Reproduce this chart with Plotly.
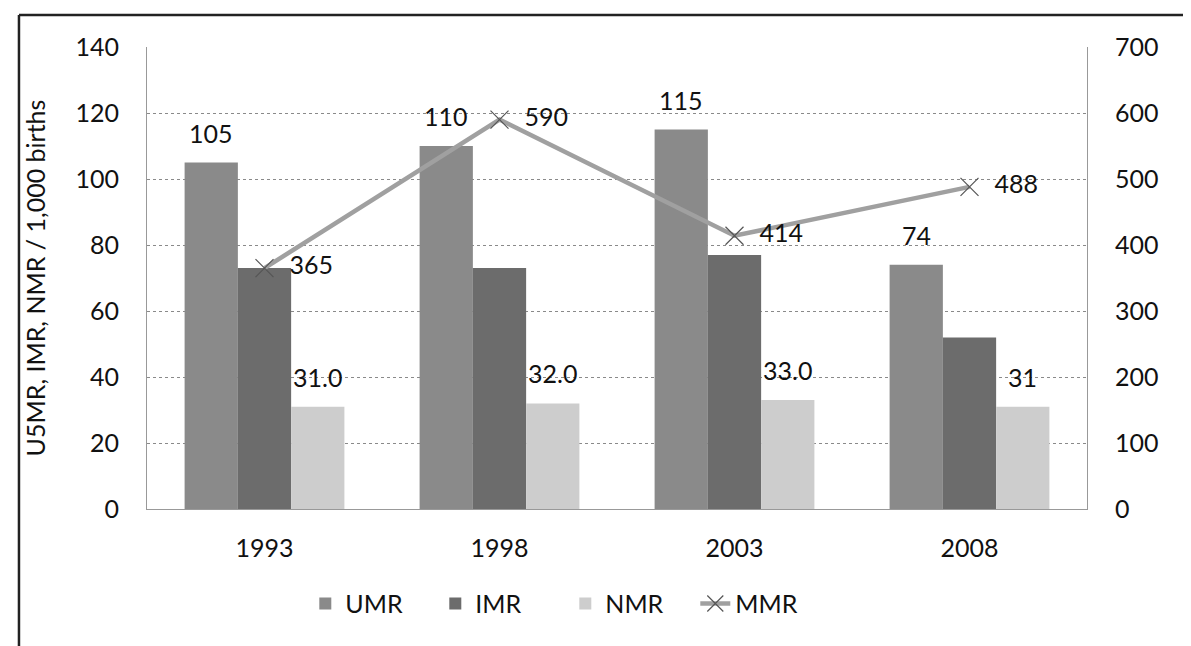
import plotly.graph_objects as go

years = ["1993", "1998", "2003", "2008"]
umr = [105, 110, 115, 74]
imr = [73, 73, 77, 52]
nmr = [31.0, 32.0, 33.0, 31]
mmr = [365, 590, 414, 488]
umr_labels = ["105", "110", "115", "74"]
nmr_labels = ["31.0", "32.0", "33.0", "31"]
mmr_labels = ["365", "590", "414", "488"]

FONT = "Lato"
FS = 25

W, H = 1191, 646
ML, MR, MT, MB = 139, 112, 39, 145
BARGAP = 0.32
plot_w = W - ML - MR
cat_w = plot_w / len(years)
bar_w = cat_w * (1 - BARGAP) / 3

fig = go.Figure()
fig.add_trace(go.Bar(x=years, y=umr, name="UMR", marker=dict(color="#8a8a8a", line=dict(width=0))))
fig.add_trace(go.Bar(x=years, y=imr, name="IMR", marker=dict(color="#6c6c6c", line=dict(width=0))))
fig.add_trace(go.Bar(x=years, y=nmr, name="NMR", marker=dict(color="#cdcdcd", line=dict(width=0))))
fig.add_trace(go.Scatter(
    x=years, y=mmr, name="MMR", yaxis="y2", mode="lines+markers+text",
    line=dict(color="#a0a0a0", width=4.5),
    marker=dict(symbol="x-thin-open", size=18, line=dict(color="#555", width=1.2), color="#555"),
    text=["  " + t for t in mmr_labels], textposition="middle right",
    textfont=dict(family=FONT, size=FS, color="#111"), cliponaxis=False,
))

annotations = []
for i, (v, t) in enumerate(zip(umr, umr_labels)):
    annotations.append(dict(x=i, y=v, text=t, showarrow=False, xref="x", yref="y",
                            xshift=-bar_w, yshift=30, font=dict(family=FONT, size=FS, color="#111")))
for i, (v, t) in enumerate(zip(nmr, nmr_labels)):
    annotations.append(dict(x=i, y=v, text=t, showarrow=False, xref="x", yref="y",
                            xshift=bar_w, yshift=30, font=dict(family=FONT, size=FS, color="#111")))

grid = dict(showgrid=True, gridcolor="#8a8a8a", gridwidth=1, griddash="dot")

fig.update_layout(
    width=W, height=H,
    paper_bgcolor="white", plot_bgcolor="white",
    font=dict(family=FONT, size=FS, color="#111"),
    margin=dict(l=ML, r=MR, t=MT, b=MB),
    barmode="group", bargap=BARGAP, bargroupgap=0,
    xaxis=dict(type="category", range=[-0.5, len(years) - 0.5], showline=True, linecolor="#999",
               linewidth=1, ticks="", tickfont=dict(size=FS), showgrid=False, ticklabelstandoff=17),
    yaxis=dict(range=[0, 140], dtick=20, showline=True, linecolor="#999", linewidth=1,
               ticks="", zeroline=False, ticklabelstandoff=22,
               title=dict(text="U5MR, IMR, NMR / 1,000 births", font=dict(size=25), standoff=22),
               **grid),
    yaxis2=dict(range=[0, 700], dtick=100, overlaying="y", side="right", showgrid=False,
                showline=True, linecolor="#999", linewidth=1, ticks="", zeroline=False,
                ticklabelstandoff=22),
    legend=dict(orientation="h", x=0.445, xanchor="center", y=-0.205, yanchor="middle",
                font=dict(size=FS), traceorder="normal", entrywidth=85, entrywidthmode="pixels"),
    showlegend=True,
    annotations=annotations,
    shapes=[
        dict(type="line", xref="paper", yref="paper", x0=-0.1362, x1=1.12, y0=1.0693, y1=1.0693,
             line=dict(color="#222", width=2.5)),
        dict(type="line", xref="paper", yref="paper", x0=-0.1362, x1=-0.1362, y0=1.0693, y1=-0.32,
             line=dict(color="#222", width=2.5)),
    ],
)

fig.write_html("out.html")
